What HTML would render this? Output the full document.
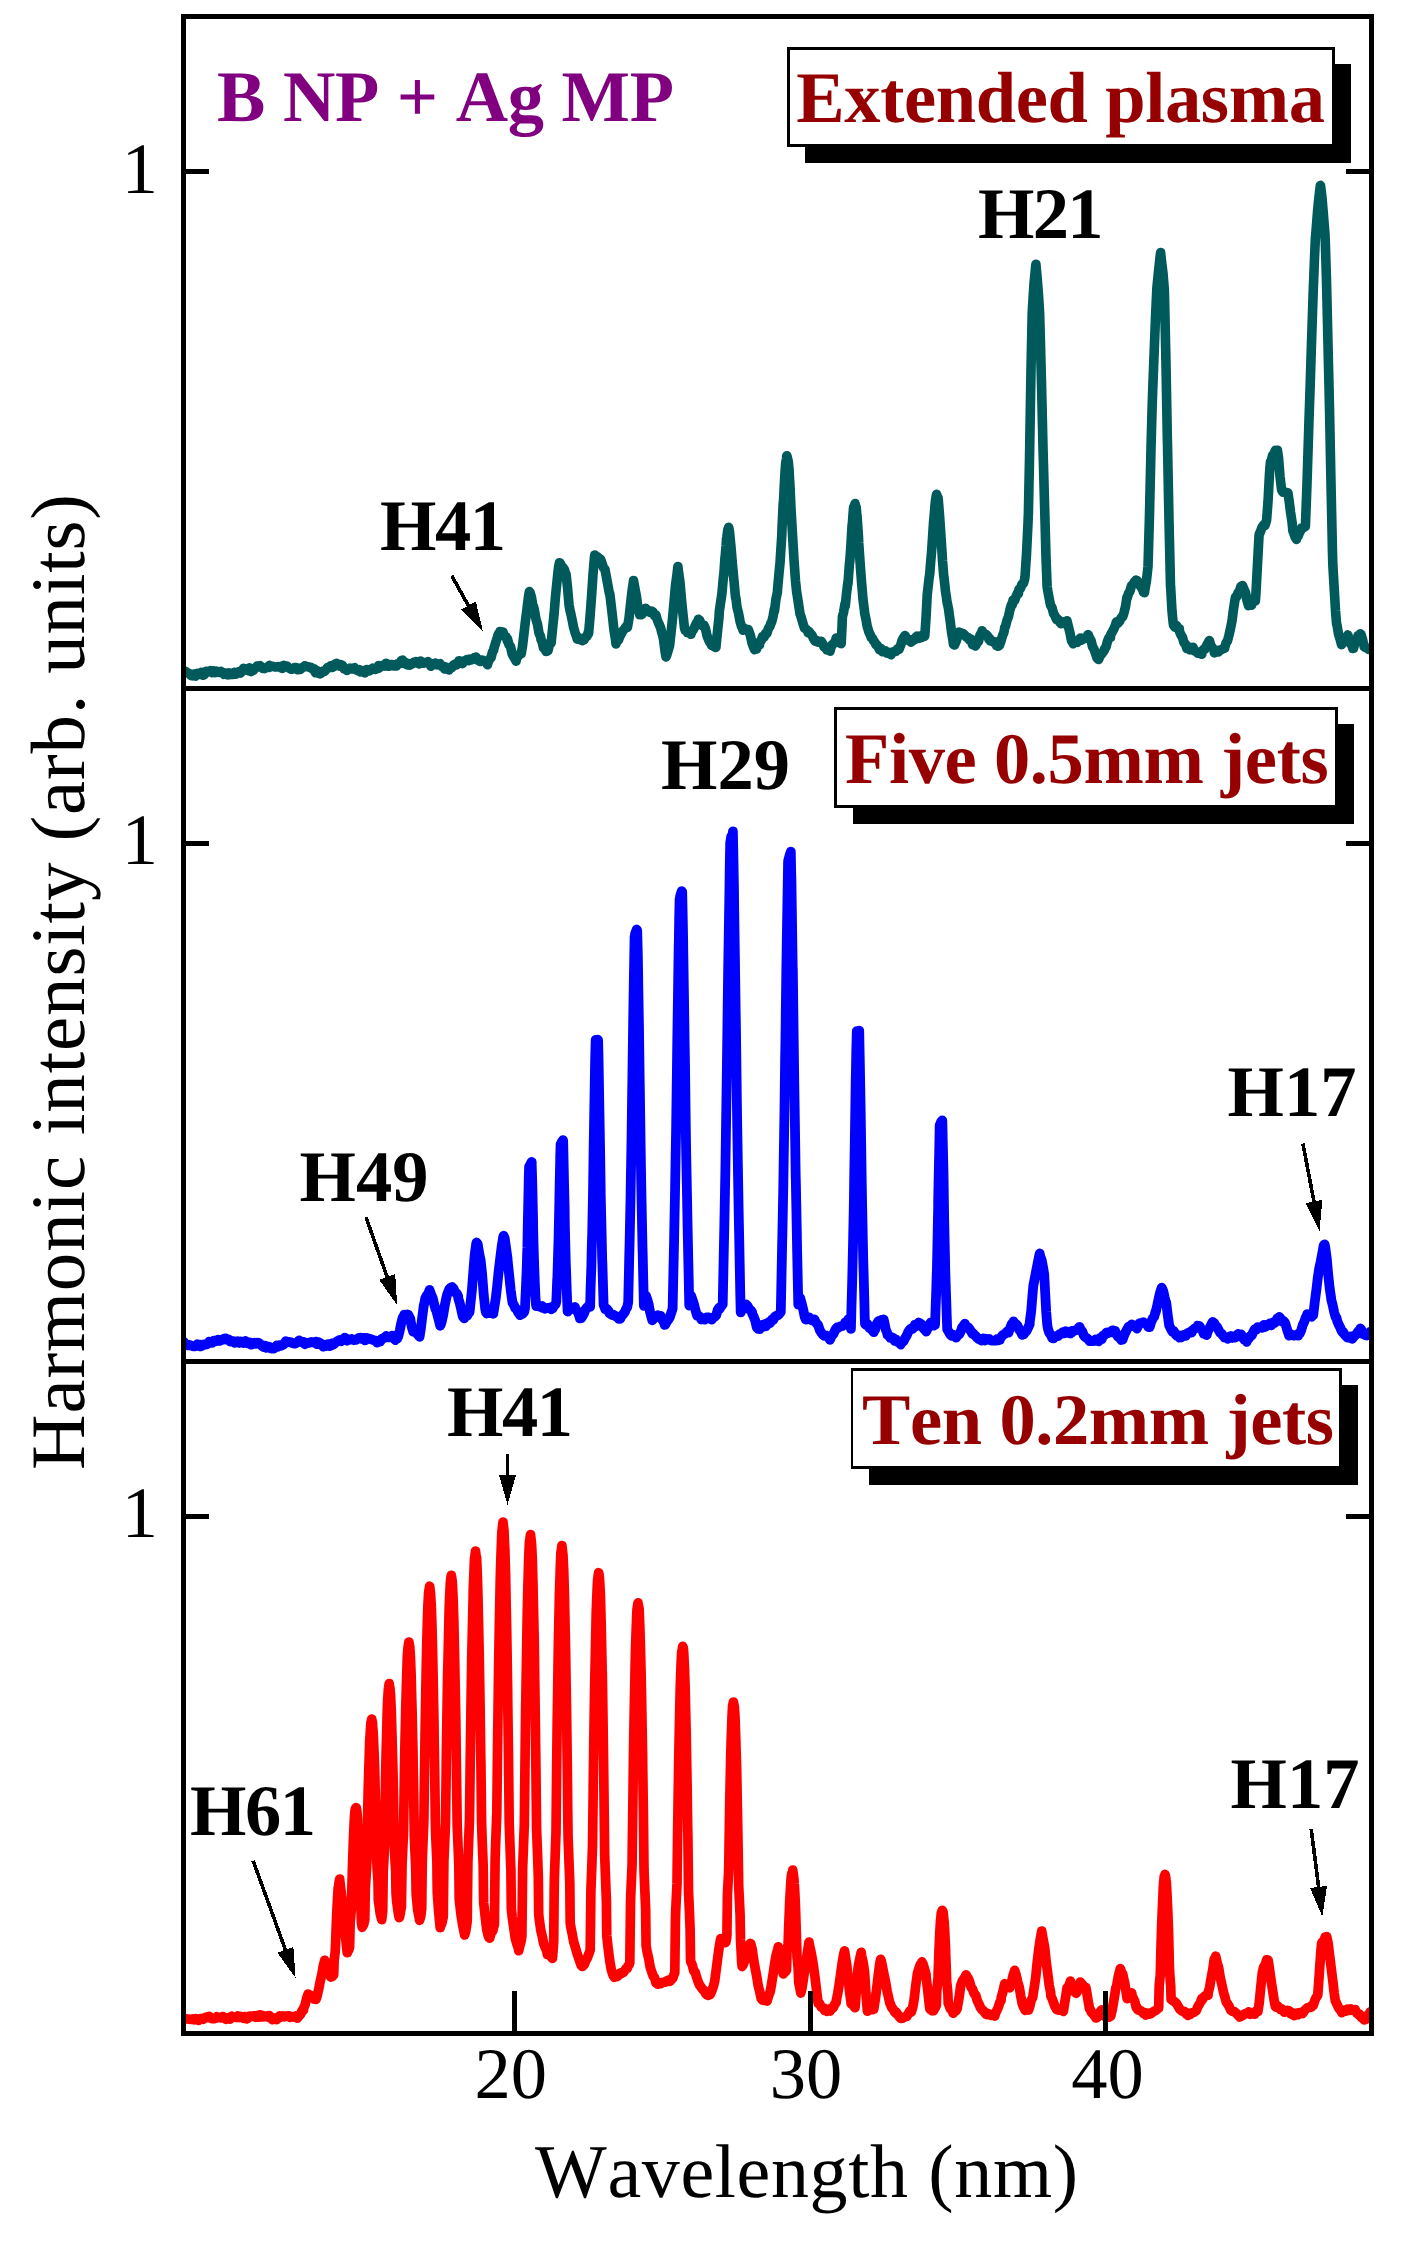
<!DOCTYPE html><html><head><meta charset="utf-8"><title>Harmonic spectra</title><style>html,body{margin:0;padding:0;background:#fff}svg{display:block}text{font-family:"Liberation Serif","DejaVu Serif",serif;font-kerning:none}.b{font-weight:bold}</style></head><body>
<svg width="1402" height="2246" viewBox="0 0 1402 2246" shape-rendering="crispEdges" text-rendering="geometricPrecision">
<rect width="1402" height="2246" fill="#fff"/>
<rect x="805.1" y="64.3" width="546.0" height="98.6" fill="#000"/><rect x="788.35" y="48.35" width="545.20" height="97.10" fill="#fff" stroke="#000" stroke-width="2.7"/>
<rect x="852.6" y="724.3" width="501.5" height="99.5" fill="#000"/><rect x="835.85" y="708.35" width="500.70" height="98.00" fill="#fff" stroke="#000" stroke-width="2.7"/>
<rect x="868.8" y="1385.3" width="489.4" height="99.7" fill="#000"/><rect x="852.05" y="1369.35" width="488.55" height="98.20" fill="#fff" stroke="#000" stroke-width="2.7"/>
<clipPath id="cp"><rect x="183.5" y="0" width="1188.0" height="2246"/></clipPath>
<g fill="none" stroke-linejoin="round" stroke-linecap="round" shape-rendering="auto" clip-path="url(#cp)">
<path stroke="#00595a" stroke-width="9.6" d="M183.5,672.3 L185.0,671.2 L186.5,672.0 L188.0,673.1 L189.5,673.7 L191.0,675.6 L192.5,675.9 L194.0,674.1 L195.5,676.1 L197.0,673.3 L198.5,673.3 L198.9,673.3 L200.0,674.4 L201.5,672.3 L203.0,675.3 L204.5,674.5 L206.0,671.2 L207.5,671.4 L209.0,671.6 L210.5,670.6 L212.0,672.7 L213.5,670.8 L215.0,672.7 L216.5,671.2 L218.0,672.1 L218.1,672.0 L219.5,672.5 L221.0,671.5 L222.5,672.5 L224.0,674.2 L225.5,673.1 L227.0,674.4 L227.8,674.9 L228.5,672.7 L230.0,674.4 L231.5,673.4 L233.0,674.3 L234.5,672.2 L236.0,674.2 L237.5,673.1 L239.0,671.5 L240.5,673.1 L242.0,671.4 L243.5,668.3 L245.0,668.8 L246.5,669.4 L248.0,670.6 L249.5,667.9 L251.0,671.6 L252.5,669.0 L253.5,670.3 L254.0,668.5 L255.5,668.0 L257.0,666.1 L258.5,666.2 L260.0,665.6 L261.5,667.4 L263.0,668.4 L264.5,668.6 L266.0,667.8 L267.5,667.2 L269.0,667.4 L269.5,665.4 L270.5,666.8 L272.0,666.3 L273.5,666.5 L275.0,667.0 L276.5,667.0 L278.0,666.5 L279.5,667.2 L281.0,666.3 L282.3,668.4 L282.5,667.3 L284.0,665.5 L285.5,666.3 L287.0,666.0 L288.5,667.8 L290.0,668.6 L291.5,669.3 L293.0,668.9 L294.5,667.6 L296.0,667.6 L297.5,669.8 L299.0,668.6 L300.5,669.3 L302.0,667.6 L303.5,667.2 L304.8,665.9 L305.0,666.7 L306.5,666.4 L308.0,666.7 L309.5,667.3 L311.0,667.2 L312.5,669.1 L314.0,668.8 L315.5,672.8 L317.0,670.6 L318.5,673.3 L320.0,673.9 L320.9,673.4 L321.5,672.8 L323.0,671.1 L324.5,671.5 L326.0,669.7 L327.5,667.6 L329.0,667.6 L330.5,665.9 L332.0,667.5 L333.5,666.9 L335.0,664.2 L336.5,663.3 L336.9,663.6 L338.0,664.9 L339.5,666.1 L341.0,664.7 L342.5,665.5 L344.0,668.9 L345.5,668.6 L347.0,670.3 L348.5,669.2 L350.0,668.2 L351.5,669.0 L353.0,668.5 L354.5,667.7 L356.0,669.9 L357.5,670.3 L359.0,671.3 L359.4,669.6 L360.5,672.0 L362.0,670.5 L363.5,671.9 L365.0,672.9 L366.5,669.6 L368.0,669.8 L369.5,670.8 L371.0,669.8 L372.5,668.3 L374.0,669.2 L375.5,669.4 L377.0,668.7 L378.5,668.3 L378.6,665.6 L380.0,666.9 L381.5,666.3 L383.0,665.4 L384.5,666.0 L386.0,663.3 L387.5,666.3 L389.0,666.3 L390.5,664.6 L392.0,664.6 L393.5,665.9 L395.0,664.7 L396.5,665.9 L398.0,663.5 L399.5,663.4 L401.0,663.2 L401.1,660.7 L402.5,660.1 L404.0,663.3 L405.5,662.7 L407.0,664.9 L408.5,663.8 L410.0,665.2 L411.5,663.7 L413.0,663.6 L413.9,662.1 L414.5,662.9 L416.0,661.6 L417.5,662.0 L419.0,663.9 L420.5,661.1 L422.0,661.9 L423.5,663.2 L425.0,662.5 L426.5,662.8 L428.0,661.7 L429.5,663.5 L430.0,664.3 L431.0,666.3 L432.5,663.7 L434.0,663.6 L435.5,663.2 L437.0,664.8 L438.5,664.3 L440.0,663.7 L441.5,666.2 L443.0,666.0 L444.5,668.9 L446.0,667.9 L446.0,667.0 L447.5,669.2 L449.0,669.9 L450.5,667.5 L452.0,667.5 L453.5,665.1 L455.0,664.0 L456.5,664.8 L458.0,663.7 L458.9,660.7 L459.5,663.1 L461.0,662.0 L462.5,663.6 L464.0,660.7 L465.5,660.6 L467.0,659.6 L468.5,660.6 L470.0,659.1 L471.5,659.8 L473.0,659.0 L474.5,657.6 L474.9,657.9 L476.0,657.1 L477.5,660.2 L479.0,659.7 L480.0,661.5 L480.5,661.0 L482.0,660.0 L483.5,660.6 L485.0,661.4 L486.5,662.7 L487.5,664.7 L488.0,662.6 L489.5,659.2 L491.0,657.7 L492.5,652.0 L493.7,650.0 L494.0,648.1 L495.5,643.3 L497.0,638.4 L498.5,633.8 L499.5,632.8 L500.0,631.5 L501.5,633.9 L503.0,632.0 L504.5,636.5 L506.0,636.7 L507.4,641.1 L507.5,639.0 L509.0,644.7 L510.5,646.5 L512.0,653.5 L513.5,656.5 L515.0,658.9 L516.2,661.1 L516.5,658.1 L518.0,656.5 L519.5,654.4 L521.0,653.2 L521.2,653.9 L522.5,646.2 L524.0,633.4 L525.5,620.5 L527.0,608.8 L528.5,596.7 L529.4,591.6 L530.0,592.5 L531.5,597.5 L533.0,606.5 L533.7,606.9 L534.5,610.9 L536.0,619.4 L537.5,624.2 L539.0,633.1 L540.5,636.5 L541.1,639.8 L542.0,641.5 L543.5,647.8 L545.0,649.4 L546.1,651.4 L546.5,651.3 L548.0,650.6 L549.5,644.2 L551.0,643.0 L551.1,643.3 L552.5,629.1 L554.0,614.8 L555.5,596.4 L557.0,581.6 L558.5,567.4 L559.4,562.9 L560.0,562.9 L561.5,566.0 L563.0,567.6 L564.5,569.7 L566.0,575.2 L566.1,574.5 L567.5,587.3 L569.0,604.4 L569.9,610.1 L570.5,612.3 L572.0,619.2 L573.5,627.0 L575.0,632.3 L576.5,636.5 L577.3,639.1 L578.0,637.3 L579.5,638.3 L581.0,639.9 L582.3,640.6 L582.5,640.0 L584.0,639.9 L585.5,637.1 L587.0,636.2 L588.5,631.6 L588.6,633.3 L590.0,617.1 L591.5,597.1 L593.0,574.5 L594.5,556.7 L594.8,555.0 L596.0,556.9 L597.5,556.9 L599.0,558.3 L600.5,559.3 L602.0,563.3 L603.5,567.7 L604.8,569.5 L605.0,569.5 L606.5,577.7 L608.0,585.9 L609.5,594.0 L609.8,593.7 L611.0,603.7 L612.5,616.7 L614.0,630.4 L615.5,639.5 L616.0,643.9 L617.0,639.7 L618.5,639.9 L620.0,636.1 L621.5,633.4 L622.3,631.4 L623.0,630.8 L624.5,628.9 L626.0,626.7 L627.3,627.4 L627.5,626.9 L629.0,618.3 L630.5,604.4 L632.0,591.4 L633.5,581.0 L633.5,580.5 L635.0,588.9 L636.5,596.6 L638.0,608.8 L639.5,613.5 L639.7,614.8 L641.0,614.8 L642.5,613.9 L644.0,611.0 L645.5,608.3 L646.0,608.7 L647.0,609.7 L648.5,611.0 L650.0,612.3 L651.5,611.1 L653.0,611.9 L654.5,614.7 L654.7,615.9 L656.0,615.2 L657.5,620.5 L659.0,624.1 L660.5,627.4 L662.0,633.7 L662.2,633.4 L663.5,639.2 L665.0,651.2 L666.0,656.9 L666.5,655.8 L668.0,651.0 L669.5,645.8 L669.7,644.8 L671.0,633.0 L672.5,618.7 L674.0,602.5 L675.5,585.5 L677.0,574.5 L677.9,566.6 L678.5,571.6 L680.0,582.3 L681.5,599.8 L683.0,614.4 L684.5,628.2 L685.2,630.3 L686.0,630.2 L687.5,632.7 L689.0,631.6 L690.5,634.0 L690.9,634.3 L692.0,631.5 L693.5,629.4 L695.0,626.4 L696.5,623.0 L698.0,621.1 L698.4,619.3 L699.5,620.1 L701.0,623.4 L702.5,625.8 L704.0,625.3 L704.6,626.8 L705.5,628.8 L707.0,635.8 L708.5,639.6 L710.0,642.6 L710.9,643.2 L711.5,645.3 L713.0,644.3 L714.5,647.0 L715.9,647.5 L716.0,646.1 L717.5,631.6 L719.0,617.6 L719.3,611.5 L720.5,603.2 L721.9,593.8 L722.0,592.7 L723.5,575.8 L723.7,576.0 L725.0,557.2 L725.1,557.3 L726.1,545.6 L726.5,539.1 L726.9,536.7 L727.6,531.3 L728.0,529.3 L728.7,527.3 L729.5,531.6 L731.0,547.2 L732.5,565.2 L734.0,580.9 L735.5,597.6 L735.9,598.0 L737.0,607.2 L738.5,613.1 L740.0,621.2 L741.5,626.5 L742.1,627.2 L743.0,630.2 L744.5,628.4 L746.0,629.7 L747.5,630.5 L748.3,629.6 L749.0,631.5 L750.5,635.9 L752.0,643.1 L753.5,647.1 L754.6,649.7 L755.0,648.4 L756.5,649.1 L758.0,644.3 L759.5,645.0 L759.6,642.0 L761.0,640.8 L762.5,636.6 L764.0,637.3 L765.5,633.4 L765.8,634.2 L767.0,633.1 L768.5,628.2 L770.0,626.3 L770.8,623.1 L771.5,622.6 L773.0,616.7 L774.4,608.9 L774.5,611.0 L776.0,598.7 L777.4,592.3 L777.5,589.9 L779.0,573.4 L780.0,563.2 L780.5,555.1 L781.8,535.3 L782.0,528.3 L783.2,503.0 L783.5,501.3 L784.2,486.8 L785.0,472.8 L785.0,472.0 L785.7,463.0 L786.5,458.5 L786.8,455.7 L787.2,457.0 L788.0,460.3 L788.3,461.7 L789.1,470.3 L789.5,478.9 L789.8,482.1 L790.8,504.0 L791.0,508.4 L792.3,531.3 L792.5,534.6 L794.0,560.0 L794.1,561.4 L795.5,580.9 L796.7,592.6 L797.0,594.0 L798.5,603.8 L799.6,611.0 L800.0,613.7 L801.5,618.3 L803.0,623.6 L803.2,624.3 L804.5,628.1 L806.0,629.0 L807.5,630.6 L808.2,632.7 L809.0,631.5 L810.5,633.7 L812.0,635.2 L813.5,638.5 L815.0,641.0 L816.5,640.3 L818.0,642.1 L819.5,641.5 L821.0,642.9 L821.2,641.2 L822.5,643.4 L824.0,646.9 L825.5,647.8 L827.0,650.0 L828.5,650.1 L830.0,650.0 L830.0,651.2 L831.5,645.5 L833.0,644.1 L834.5,642.8 L836.0,639.4 L836.2,638.1 L837.5,641.2 L839.0,640.4 L840.5,643.5 L841.2,643.6 L842.0,627.3 L842.4,616.8 L843.5,612.6 L845.0,603.9 L845.3,605.7 L846.5,593.6 L847.9,582.1 L848.0,583.6 L849.5,562.3 L849.7,562.7 L851.0,544.0 L851.2,540.0 L852.1,525.1 L852.5,522.2 L852.9,515.8 L853.6,507.2 L854.0,508.1 L854.7,505.1 L855.1,503.5 L855.5,505.8 L856.2,507.3 L856.9,515.6 L857.0,515.4 L857.7,525.5 L858.5,537.0 L858.7,542.5 L860.0,561.4 L860.1,562.9 L861.5,581.5 L861.9,586.3 L863.0,599.3 L864.5,611.3 L864.5,612.2 L866.0,619.4 L867.4,627.3 L867.5,627.2 L869.0,632.3 L870.5,635.2 L871.0,637.4 L872.0,637.6 L873.5,640.7 L875.0,642.5 L876.0,644.7 L876.5,644.5 L878.0,646.4 L879.5,649.7 L881.0,648.5 L882.5,651.8 L884.0,651.2 L885.5,650.8 L887.0,653.1 L888.5,653.1 L890.0,652.4 L891.1,654.8 L891.5,653.3 L893.0,652.3 L894.5,651.3 L896.0,651.5 L897.5,648.8 L899.0,649.4 L899.9,646.7 L900.5,645.9 L902.0,640.5 L903.5,637.6 L903.6,637.6 L905.0,635.6 L906.5,637.9 L908.0,640.1 L909.5,639.6 L911.0,642.2 L911.1,639.9 L912.5,640.6 L914.0,640.2 L915.5,637.8 L917.0,636.1 L918.5,636.5 L918.6,638.4 L920.0,636.1 L921.5,637.6 L923.0,635.4 L924.5,636.3 L924.8,635.6 L926.0,618.3 L927.2,595.0 L927.5,592.2 L929.0,578.7 L929.8,573.6 L930.5,564.0 L931.6,551.6 L932.0,545.6 L933.0,530.4 L933.5,522.8 L934.0,517.4 L934.8,507.9 L935.0,505.3 L935.5,500.6 L936.5,494.6 L936.6,494.3 L937.0,495.4 L938.0,500.2 L938.1,498.0 L938.8,506.0 L939.5,514.9 L939.6,516.2 L940.5,529.5 L941.0,537.0 L942.0,552.1 L942.5,560.6 L943.8,576.6 L944.0,577.2 L945.5,591.5 L946.4,597.0 L947.0,601.8 L948.5,608.7 L949.3,615.0 L950.0,619.5 L951.5,631.9 L953.0,640.8 L953.5,644.5 L954.5,645.0 L956.0,641.8 L957.5,637.1 L959.0,632.1 L959.8,632.8 L960.5,632.8 L962.0,633.1 L963.5,633.8 L965.0,635.3 L966.5,637.2 L967.2,637.2 L968.0,637.2 L969.5,640.0 L971.0,638.9 L972.5,644.6 L974.0,643.8 L974.7,645.5 L975.5,645.9 L977.0,642.8 L978.5,641.3 L980.0,635.2 L981.5,632.6 L982.2,630.7 L983.0,633.1 L984.5,633.9 L986.0,634.5 L987.5,635.8 L989.0,639.5 L989.7,638.6 L990.5,640.9 L992.0,640.9 L993.5,642.2 L995.0,641.7 L996.5,645.6 L998.0,646.2 L998.5,646.2 L999.5,645.2 L1001.0,640.9 L1002.5,635.8 L1004.0,632.1 L1004.7,627.5 L1005.5,626.3 L1007.0,620.4 L1008.5,616.4 L1010.0,609.5 L1011.5,604.5 L1012.2,605.0 L1013.0,600.2 L1014.5,600.8 L1016.0,596.6 L1017.5,593.1 L1018.4,593.6 L1019.0,589.2 L1020.5,588.4 L1022.0,584.2 L1023.5,583.2 L1024.7,579.0 L1025.0,576.7 L1026.5,554.3 L1028.0,523.3 L1028.4,512.7 L1029.5,458.9 L1031.0,369.9 L1032.2,313.3 L1032.5,307.7 L1034.0,283.7 L1035.5,268.0 L1035.9,264.3 L1037.0,276.2 L1038.5,295.1 L1039.6,312.9 L1040.0,325.8 L1041.5,383.6 L1043.0,447.5 L1043.4,462.2 L1044.5,502.5 L1046.0,557.5 L1047.1,586.3 L1047.5,589.4 L1049.0,597.5 L1050.5,605.2 L1052.0,607.6 L1053.5,613.3 L1055.0,615.9 L1056.5,619.5 L1058.0,619.3 L1059.5,620.8 L1059.5,621.9 L1061.0,623.7 L1062.5,621.7 L1064.0,623.5 L1065.5,621.5 L1067.0,621.4 L1067.0,620.8 L1068.5,626.8 L1070.0,633.1 L1071.5,640.5 L1073.0,643.1 L1073.2,643.8 L1074.5,642.4 L1076.0,641.7 L1077.5,642.3 L1079.0,639.9 L1080.5,638.0 L1080.7,638.6 L1082.0,639.9 L1083.5,638.8 L1085.0,637.9 L1086.5,638.2 L1088.0,634.6 L1088.2,634.7 L1089.5,637.8 L1091.0,640.4 L1092.5,646.5 L1094.0,649.1 L1095.5,653.3 L1097.0,657.9 L1098.2,658.2 L1098.5,659.5 L1100.0,656.0 L1101.5,654.2 L1103.0,652.1 L1104.4,650.2 L1104.5,648.9 L1106.0,647.0 L1107.5,641.3 L1109.0,637.6 L1110.5,637.3 L1110.7,634.7 L1112.0,632.4 L1113.5,629.7 L1115.0,626.3 L1116.5,621.7 L1116.9,623.8 L1118.0,623.1 L1119.5,621.4 L1121.0,618.1 L1122.5,617.1 L1123.1,615.5 L1124.0,612.7 L1125.5,606.5 L1126.9,597.5 L1127.0,598.5 L1128.5,593.5 L1130.0,591.1 L1131.5,585.6 L1133.0,584.5 L1134.5,581.8 L1135.6,580.8 L1136.0,580.1 L1137.5,581.1 L1139.0,582.9 L1140.5,586.4 L1142.0,587.8 L1143.5,592.1 L1144.4,592.8 L1145.0,589.1 L1146.5,580.5 L1148.0,566.4 L1148.1,563.6 L1149.5,514.5 L1151.0,448.5 L1151.9,415.2 L1152.5,395.9 L1154.0,356.3 L1155.5,317.7 L1156.8,289.1 L1157.0,286.6 L1158.5,271.8 L1160.0,257.5 L1160.6,252.6 L1161.5,261.0 L1163.0,273.3 L1164.3,289.1 L1164.5,295.4 L1166.0,364.6 L1167.3,436.9 L1167.5,444.5 L1169.0,520.4 L1170.5,586.7 L1170.6,586.3 L1172.0,611.2 L1173.1,622.2 L1173.5,625.2 L1175.0,627.3 L1176.5,625.6 L1178.0,628.3 L1179.3,628.7 L1179.5,631.6 L1181.0,634.9 L1182.5,637.5 L1184.0,642.8 L1185.5,644.1 L1186.8,648.5 L1187.0,646.9 L1188.5,646.9 L1190.0,649.8 L1191.5,649.2 L1193.0,647.3 L1194.5,651.0 L1195.5,651.2 L1196.0,651.2 L1197.5,653.0 L1199.0,652.2 L1200.5,653.7 L1201.8,654.3 L1202.0,651.3 L1203.5,649.4 L1205.0,649.2 L1206.5,645.7 L1208.0,643.0 L1209.3,640.5 L1209.5,640.9 L1211.0,645.8 L1212.5,647.9 L1214.0,649.6 L1214.3,652.9 L1215.5,650.2 L1217.0,652.1 L1218.5,651.9 L1220.0,649.9 L1221.5,649.7 L1223.0,648.6 L1224.2,648.1 L1224.5,648.4 L1226.0,643.0 L1227.5,640.9 L1229.0,635.1 L1230.5,628.4 L1230.5,628.7 L1232.0,620.9 L1233.5,609.2 L1235.0,599.5 L1235.5,597.2 L1236.5,597.1 L1238.0,592.8 L1239.5,591.0 L1241.0,586.3 L1242.5,585.6 L1242.5,585.6 L1244.0,589.3 L1245.5,592.5 L1247.0,600.5 L1248.5,605.6 L1249.2,605.5 L1250.0,604.0 L1251.5,605.2 L1253.0,601.2 L1254.5,600.4 L1255.4,600.9 L1256.0,592.5 L1257.5,564.1 L1259.0,535.9 L1259.2,534.5 L1260.5,531.5 L1262.0,527.4 L1263.5,525.1 L1265.0,525.2 L1266.5,520.5 L1266.7,518.8 L1268.0,501.7 L1269.5,473.5 L1270.4,462.0 L1271.0,462.3 L1272.5,455.7 L1274.0,453.7 L1275.5,450.2 L1277.0,452.0 L1277.4,450.2 L1278.5,457.4 L1280.0,476.5 L1281.5,489.3 L1281.7,490.1 L1283.0,492.2 L1284.5,492.0 L1286.0,492.4 L1287.5,493.0 L1287.9,492.8 L1289.0,499.9 L1290.5,511.9 L1292.0,521.8 L1292.9,531.0 L1293.5,532.2 L1295.0,536.8 L1296.5,539.4 L1296.6,537.1 L1298.0,536.3 L1299.5,532.7 L1301.0,530.0 L1301.6,528.1 L1302.5,528.2 L1304.0,527.3 L1305.4,526.3 L1305.5,523.9 L1307.0,483.9 L1308.5,436.0 L1309.1,416.8 L1310.0,391.1 L1311.5,342.8 L1313.0,297.7 L1314.5,258.1 L1315.4,238.0 L1316.0,231.4 L1317.5,211.9 L1319.0,196.5 L1320.3,185.7 L1320.5,185.4 L1322.0,197.6 L1323.5,215.6 L1325.0,234.9 L1325.3,241.9 L1326.5,280.8 L1328.0,344.5 L1329.1,390.6 L1329.5,408.4 L1331.0,483.9 L1332.5,553.2 L1332.8,564.4 L1334.0,585.1 L1335.5,610.8 L1336.6,624.1 L1337.0,624.9 L1338.5,634.1 L1340.0,638.7 L1341.5,644.6 L1341.6,643.9 L1343.0,642.8 L1344.5,639.7 L1346.0,638.4 L1347.5,637.4 L1347.8,634.9 L1349.0,638.7 L1350.5,643.3 L1352.0,645.6 L1352.8,648.4 L1353.5,648.3 L1355.0,642.5 L1356.5,641.8 L1358.0,635.7 L1359.5,635.3 L1360.3,633.8 L1361.0,634.3 L1362.5,639.2 L1364.0,645.8 L1364.0,646.6 L1365.5,647.6 L1367.0,647.7 L1368.5,649.4 L1370.0,648.5 L1371.5,647.4"/>
<path stroke="#0000ff" stroke-width="9.8" d="M183.7,1341.8 L185.2,1343.7 L186.7,1344.4 L188.2,1345.4 L189.7,1345.0 L191.2,1345.6 L192.7,1346.1 L194.2,1346.3 L195.7,1346.1 L197.2,1344.3 L198.7,1345.0 L200.0,1344.7 L200.2,1346.5 L201.7,1345.9 L203.2,1344.3 L204.7,1344.4 L206.2,1344.5 L207.7,1343.9 L209.2,1341.6 L210.7,1342.7 L212.2,1342.9 L213.7,1340.7 L215.2,1340.7 L216.7,1341.0 L218.2,1339.7 L219.7,1340.8 L221.2,1339.8 L222.4,1339.5 L222.7,1339.7 L224.2,1338.6 L225.7,1338.4 L227.2,1339.7 L228.7,1339.5 L230.2,1341.5 L231.7,1341.4 L233.2,1341.2 L234.7,1342.7 L236.2,1341.6 L237.7,1341.1 L239.2,1343.0 L239.9,1342.1 L240.7,1341.5 L242.2,1342.5 L243.7,1343.0 L245.2,1341.0 L246.7,1342.8 L248.2,1343.4 L249.7,1342.3 L251.2,1344.7 L252.7,1343.8 L254.2,1342.7 L255.7,1343.7 L257.2,1343.0 L257.4,1342.7 L258.7,1342.8 L260.2,1344.0 L261.7,1345.6 L263.2,1346.9 L264.7,1345.7 L266.2,1347.8 L267.7,1346.4 L269.2,1346.8 L270.7,1348.4 L272.2,1348.6 L273.7,1348.6 L274.8,1347.6 L275.2,1347.0 L276.7,1345.6 L278.2,1346.7 L279.7,1345.3 L281.2,1345.8 L282.7,1345.0 L284.2,1344.1 L285.7,1341.2 L287.2,1342.1 L287.3,1342.1 L288.7,1341.8 L290.2,1342.0 L291.7,1342.7 L293.2,1343.5 L294.7,1343.7 L296.2,1343.0 L297.7,1342.0 L299.2,1340.3 L300.7,1342.1 L302.2,1341.8 L303.7,1341.9 L304.8,1344.2 L305.2,1344.1 L306.7,1343.2 L308.2,1342.8 L309.7,1342.6 L311.2,1341.9 L312.7,1342.4 L314.2,1342.6 L315.7,1341.6 L317.2,1344.2 L318.7,1342.2 L319.8,1343.6 L320.2,1343.0 L321.7,1344.0 L323.2,1346.7 L324.7,1345.2 L326.2,1346.0 L327.7,1344.1 L329.2,1344.2 L329.8,1346.0 L330.7,1345.7 L332.2,1343.4 L333.7,1344.5 L335.2,1342.9 L336.7,1341.7 L338.2,1340.7 L339.7,1339.9 L341.2,1341.1 L342.7,1339.9 L344.2,1339.1 L344.7,1337.6 L345.7,1338.4 L347.2,1340.6 L348.7,1339.9 L350.2,1339.7 L351.7,1339.0 L353.2,1340.0 L354.7,1340.0 L354.7,1339.8 L356.2,1339.8 L357.7,1338.7 L359.2,1337.8 L360.7,1337.7 L362.2,1338.9 L363.7,1337.9 L365.2,1340.4 L366.7,1338.0 L367.2,1338.7 L368.2,1338.6 L369.7,1338.6 L371.2,1339.3 L372.7,1339.7 L374.2,1340.5 L375.7,1340.7 L377.2,1342.7 L377.2,1342.5 L378.7,1341.0 L380.2,1341.6 L381.7,1339.0 L383.2,1338.5 L384.7,1337.3 L386.2,1336.1 L387.7,1337.4 L389.2,1336.8 L389.7,1336.6 L390.7,1337.4 L392.2,1335.6 L393.7,1337.9 L395.2,1340.1 L396.7,1338.4 L397.2,1338.8 L398.2,1336.5 L399.7,1330.8 L401.2,1323.2 L402.7,1317.5 L403.4,1317.2 L404.2,1314.6 L405.7,1316.0 L407.2,1314.4 L408.4,1314.7 L408.7,1315.6 L410.2,1318.7 L411.7,1326.9 L413.2,1331.7 L413.4,1330.9 L414.7,1331.9 L416.2,1332.8 L417.7,1334.4 L419.2,1336.3 L419.6,1336.8 L420.7,1329.6 L422.2,1317.5 L423.7,1305.8 L424.6,1302.2 L425.2,1298.5 L426.7,1295.4 L428.2,1293.7 L429.6,1289.9 L429.7,1290.3 L431.2,1294.8 L432.7,1298.1 L434.2,1304.4 L435.7,1309.6 L435.9,1309.1 L437.2,1314.1 L438.7,1319.7 L440.2,1325.8 L440.8,1324.5 L441.7,1321.7 L443.2,1314.9 L444.7,1305.7 L446.2,1298.4 L447.1,1294.6 L447.7,1293.1 L449.2,1289.4 L450.7,1287.5 L452.1,1287.0 L452.2,1287.3 L453.7,1288.8 L455.2,1292.5 L456.7,1293.3 L458.2,1296.6 L458.3,1298.5 L459.7,1302.9 L461.2,1309.5 L462.7,1316.2 L463.3,1317.2 L464.2,1318.4 L465.7,1316.0 L467.2,1315.7 L468.7,1312.7 L469.6,1312.1 L470.2,1306.0 L471.7,1292.3 L473.2,1273.3 L474.7,1254.7 L476.2,1243.9 L476.5,1242.5 L477.7,1243.9 L479.2,1253.5 L480.7,1260.8 L480.8,1261.6 L482.2,1275.0 L483.7,1294.8 L485.2,1308.7 L485.8,1311.9 L486.7,1313.4 L488.2,1312.8 L489.7,1313.2 L491.2,1312.1 L492.7,1313.4 L493.3,1313.8 L494.2,1308.1 L495.7,1298.8 L497.2,1285.8 L498.7,1271.0 L500.2,1258.4 L501.7,1246.3 L503.2,1236.9 L503.7,1235.7 L504.7,1238.3 L506.2,1249.0 L507.5,1258.1 L507.7,1261.6 L509.2,1275.3 L510.7,1290.1 L512.2,1300.7 L512.5,1302.9 L513.7,1304.6 L515.2,1308.2 L516.7,1309.0 L518.2,1312.6 L519.7,1314.3 L520.0,1315.2 L521.2,1312.5 L522.7,1313.8 L524.2,1311.9 L525.0,1308.3 L525.4,1298.2 L525.7,1292.4 L526.0,1285.9 L526.7,1269.0 L527.2,1251.6 L527.4,1247.2 L527.8,1223.4 L528.3,1201.6 L528.7,1181.2 L528.7,1179.7 L529.1,1166.6 L530.2,1164.8 L531.7,1161.8 L531.7,1164.3 L532.2,1180.1 L532.6,1198.1 L533.1,1221.4 L533.2,1230.1 L533.5,1243.7 L534.2,1265.8 L534.7,1279.8 L534.8,1282.5 L535.4,1295.9 L535.9,1303.6 L536.2,1306.1 L537.7,1305.5 L539.2,1306.6 L540.7,1306.3 L542.2,1306.0 L542.4,1307.8 L543.7,1307.6 L545.2,1308.7 L546.7,1308.2 L548.2,1307.8 L549.7,1307.7 L551.2,1309.1 L551.2,1309.3 L552.7,1308.4 L554.2,1305.4 L555.7,1304.3 L556.3,1301.6 L556.7,1292.3 L557.2,1279.4 L557.4,1277.5 L558.0,1257.2 L558.7,1233.8 L558.7,1231.7 L559.2,1208.7 L559.7,1182.3 L560.2,1159.7 L560.2,1157.4 L560.6,1144.5 L561.7,1141.9 L563.1,1140.1 L563.2,1143.5 L563.4,1151.9 L564.1,1185.2 L564.7,1210.0 L564.7,1216.3 L565.1,1236.6 L565.8,1263.2 L566.2,1273.9 L566.5,1283.2 L567.1,1299.9 L567.6,1311.5 L567.7,1310.2 L569.2,1308.8 L570.7,1309.3 L572.2,1308.1 L573.7,1307.5 L574.9,1307.0 L575.2,1309.3 L576.7,1310.3 L578.2,1313.0 L579.7,1317.6 L579.9,1318.4 L581.2,1318.2 L582.7,1316.0 L584.2,1313.2 L585.7,1309.0 L587.2,1307.3 L588.6,1306.5 L588.7,1305.6 L590.1,1306.8 L590.2,1303.3 L590.6,1287.9 L591.4,1265.2 L591.7,1249.4 L592.2,1233.9 L593.0,1193.0 L593.2,1178.7 L593.6,1150.7 L594.3,1109.0 L594.7,1085.9 L594.9,1073.4 L595.2,1056.7 L595.7,1039.8 L596.2,1040.5 L597.7,1039.7 L598.1,1040.0 L598.5,1056.5 L598.8,1073.8 L599.2,1098.3 L599.4,1109.8 L600.1,1150.0 L600.7,1191.5 L600.7,1194.0 L601.6,1232.5 L602.2,1259.6 L602.4,1264.1 L603.1,1288.8 L603.6,1305.2 L603.7,1305.1 L605.2,1309.1 L606.7,1308.7 L608.2,1310.4 L609.7,1313.5 L611.2,1314.5 L612.3,1315.2 L612.7,1314.5 L614.2,1315.2 L615.7,1316.3 L617.2,1316.8 L618.7,1318.9 L619.8,1318.7 L620.2,1318.9 L621.7,1315.5 L623.2,1314.3 L624.7,1312.3 L626.2,1308.7 L627.3,1307.1 L627.7,1304.5 L628.2,1302.6 L628.8,1276.9 L629.2,1258.4 L629.6,1242.6 L630.5,1200.2 L630.7,1186.6 L631.5,1141.0 L632.2,1089.1 L632.3,1084.8 L633.1,1025.7 L633.7,989.0 L633.9,976.3 L634.3,954.0 L634.6,937.1 L635.2,933.4 L636.7,929.5 L637.2,930.6 L637.8,953.8 L638.2,976.3 L638.2,980.8 L639.0,1028.2 L639.7,1081.3 L639.8,1085.6 L640.6,1144.3 L641.2,1181.5 L641.6,1202.8 L642.5,1247.7 L642.7,1253.6 L643.3,1281.4 L643.9,1305.9 L644.2,1305.8 L645.7,1296.0 L646.0,1295.8 L647.2,1299.2 L648.7,1304.4 L650.2,1312.8 L651.7,1318.2 L652.3,1320.3 L653.2,1319.1 L654.7,1318.0 L656.2,1316.8 L657.7,1315.3 L659.2,1316.5 L659.8,1316.0 L660.7,1316.0 L662.2,1319.6 L663.7,1322.0 L664.8,1324.9 L665.2,1324.9 L666.7,1321.8 L668.2,1319.9 L669.7,1317.4 L671.2,1312.9 L672.6,1308.9 L672.7,1304.6 L673.2,1281.4 L674.1,1240.6 L674.2,1234.4 L675.0,1193.6 L675.7,1152.4 L676.1,1130.3 L677.0,1063.5 L677.2,1046.7 L677.9,999.7 L678.7,945.2 L678.8,943.0 L679.2,917.1 L679.6,899.6 L680.2,896.0 L681.7,891.1 L682.2,892.0 L682.7,916.7 L683.2,942.9 L683.2,945.8 L684.0,997.6 L684.7,1046.3 L685.0,1063.4 L685.8,1127.9 L686.2,1153.9 L686.9,1190.4 L687.7,1232.5 L687.8,1237.4 L688.7,1278.4 L689.2,1303.6 L689.3,1305.5 L690.7,1297.0 L691.0,1295.6 L692.2,1298.7 L693.7,1303.2 L695.2,1309.1 L696.7,1314.5 L697.2,1315.8 L698.2,1315.4 L699.7,1316.7 L701.2,1319.5 L702.7,1319.3 L704.2,1318.5 L704.7,1319.5 L705.7,1317.7 L707.2,1317.3 L708.7,1317.4 L710.2,1318.4 L711.7,1319.6 L712.2,1318.8 L713.2,1317.7 L714.7,1316.8 L716.2,1315.3 L717.7,1309.8 L719.2,1307.7 L719.7,1308.8 L720.7,1306.7 L722.2,1305.2 L722.7,1304.3 L723.4,1271.0 L723.7,1255.7 L724.3,1227.6 L725.2,1179.6 L725.3,1176.2 L726.4,1100.7 L726.7,1080.6 L727.4,1027.2 L728.2,967.6 L728.4,955.2 L729.4,892.0 L729.7,869.7 L729.8,863.4 L730.2,842.9 L731.2,836.4 L732.7,834.2 L732.9,831.5 L733.5,863.2 L734.0,890.9 L734.2,910.1 L734.9,956.6 L735.7,1013.1 L736.0,1031.4 L736.9,1103.9 L737.2,1124.4 L738.1,1178.7 L738.7,1213.7 L739.1,1233.2 L740.0,1279.9 L740.2,1291.1 L740.7,1312.4 L741.7,1309.4 L743.2,1307.7 L744.7,1306.3 L745.9,1305.7 L746.2,1304.5 L747.7,1306.1 L749.2,1309.4 L750.7,1310.1 L752.1,1312.1 L752.2,1313.8 L753.7,1316.7 L755.2,1320.6 L756.7,1327.3 L758.2,1328.9 L758.4,1328.6 L759.7,1329.0 L761.2,1325.2 L762.7,1327.0 L764.2,1324.2 L765.7,1323.9 L765.9,1326.3 L767.2,1324.3 L768.7,1322.2 L770.2,1323.0 L771.7,1319.8 L773.2,1320.1 L774.6,1317.3 L774.7,1316.9 L776.2,1315.9 L777.7,1315.3 L779.2,1314.1 L780.7,1312.1 L780.8,1311.2 L781.4,1281.8 L782.2,1241.4 L782.3,1238.4 L783.3,1186.9 L783.7,1160.2 L784.4,1115.7 L785.2,1053.4 L785.4,1043.3 L786.3,972.2 L786.7,945.3 L787.3,908.7 L787.8,880.3 L788.1,861.7 L788.2,860.8 L789.7,855.1 L790.8,851.7 L791.2,873.4 L791.4,879.5 L791.8,907.1 L792.7,968.0 L792.8,968.3 L793.7,1039.2 L794.2,1077.9 L794.7,1110.0 L795.7,1177.3 L795.8,1179.2 L796.8,1232.4 L797.2,1254.1 L797.6,1272.7 L798.3,1304.6 L798.7,1302.0 L799.6,1297.4 L800.2,1298.0 L801.7,1303.5 L803.2,1309.6 L804.7,1316.9 L805.8,1319.6 L806.2,1318.6 L807.7,1317.2 L809.2,1317.4 L810.7,1319.8 L812.2,1320.4 L813.7,1319.9 L814.5,1319.5 L815.2,1321.3 L816.7,1323.6 L818.2,1325.2 L819.7,1330.0 L821.2,1332.5 L822.0,1333.4 L822.7,1334.6 L824.2,1335.9 L825.7,1335.4 L827.2,1336.0 L828.7,1337.8 L830.0,1339.8 L830.2,1339.3 L831.7,1335.8 L833.2,1334.3 L834.7,1331.1 L836.2,1328.2 L837.5,1328.4 L837.7,1327.2 L839.2,1327.2 L840.7,1326.2 L842.2,1326.2 L843.7,1324.8 L845.0,1324.6 L845.2,1322.6 L846.7,1322.2 L848.2,1319.5 L849.7,1319.0 L850.0,1318.3 L850.9,1328.9 L851.2,1318.4 L851.4,1309.7 L852.2,1281.0 L852.7,1258.2 L853.0,1245.7 L853.9,1201.3 L854.2,1177.6 L854.6,1154.4 L855.3,1108.8 L855.7,1081.5 L856.0,1068.6 L856.3,1049.8 L856.8,1031.1 L857.2,1032.4 L858.7,1032.3 L859.2,1030.7 L859.6,1051.0 L859.9,1066.7 L860.2,1084.4 L860.6,1106.4 L861.3,1152.4 L861.7,1180.2 L862.0,1197.6 L862.9,1243.4 L863.2,1258.6 L863.7,1276.2 L864.4,1302.8 L864.7,1316.7 L865.0,1324.0 L866.2,1325.0 L867.4,1323.9 L867.7,1324.4 L869.2,1327.9 L870.7,1328.5 L872.2,1330.1 L873.7,1332.2 L873.7,1331.9 L875.2,1329.6 L876.7,1324.0 L878.2,1321.4 L878.7,1321.0 L879.7,1321.1 L881.2,1320.1 L882.7,1321.3 L883.7,1319.5 L884.2,1321.7 L885.7,1329.3 L887.2,1332.9 L887.4,1334.8 L888.7,1335.4 L890.2,1337.8 L891.7,1337.4 L893.2,1337.7 L894.7,1340.9 L894.9,1340.3 L896.2,1339.7 L897.7,1342.0 L899.2,1342.4 L900.7,1344.6 L901.1,1342.6 L902.2,1342.6 L903.7,1340.9 L905.2,1338.0 L906.7,1335.5 L907.4,1333.9 L908.2,1332.0 L909.7,1329.7 L911.2,1328.4 L912.7,1328.8 L914.2,1326.9 L914.9,1324.6 L915.7,1326.5 L917.2,1324.3 L918.7,1322.6 L919.9,1323.2 L920.2,1323.3 L921.7,1324.7 L923.2,1328.1 L924.7,1329.8 L926.1,1330.2 L926.2,1331.5 L927.7,1328.4 L929.2,1324.9 L930.7,1322.4 L931.1,1323.1 L932.2,1322.7 L933.7,1325.7 L935.0,1324.9 L935.2,1321.1 L935.5,1310.8 L936.2,1292.1 L936.7,1274.4 L936.9,1270.1 L937.6,1236.1 L938.2,1205.1 L938.2,1200.8 L938.7,1174.8 L939.3,1146.9 L939.7,1125.1 L939.7,1125.3 L941.2,1121.6 L942.3,1120.5 L942.6,1134.2 L942.7,1139.2 L943.5,1173.3 L944.0,1207.2 L944.2,1220.3 L944.6,1239.2 L945.3,1271.4 L945.7,1284.3 L946.1,1296.3 L946.7,1314.6 L947.2,1329.2 L947.2,1329.3 L948.7,1331.9 L950.2,1334.4 L951.7,1335.8 L953.2,1334.8 L954.7,1335.6 L956.1,1337.7 L956.2,1337.5 L957.7,1334.9 L959.2,1334.5 L960.7,1331.5 L962.2,1327.1 L963.7,1325.8 L964.8,1323.6 L965.2,1325.1 L966.7,1326.6 L968.2,1327.4 L969.7,1329.3 L971.2,1331.6 L972.3,1333.7 L972.7,1332.9 L974.2,1334.6 L975.7,1336.0 L977.2,1337.8 L978.7,1339.1 L979.8,1339.1 L980.2,1339.8 L981.7,1340.5 L983.2,1338.4 L984.7,1340.5 L986.2,1338.7 L987.7,1339.5 L989.2,1339.0 L989.8,1339.9 L990.7,1340.5 L992.2,1340.7 L993.7,1340.6 L995.2,1340.7 L996.7,1339.4 L998.2,1340.4 L999.7,1339.9 L999.7,1338.9 L1001.2,1337.3 L1002.7,1335.1 L1004.2,1334.3 L1005.7,1333.2 L1007.2,1331.4 L1008.5,1332.6 L1008.7,1332.0 L1010.2,1327.8 L1011.7,1324.1 L1013.2,1322.4 L1013.5,1321.5 L1014.7,1323.6 L1016.2,1324.3 L1017.7,1325.9 L1019.2,1329.8 L1020.7,1331.7 L1022.2,1334.8 L1022.2,1334.4 L1023.7,1334.3 L1025.2,1332.3 L1026.7,1330.8 L1028.2,1327.4 L1029.7,1324.2 L1029.7,1322.4 L1031.2,1311.0 L1032.7,1292.4 L1033.4,1285.3 L1034.2,1281.2 L1035.7,1273.4 L1037.2,1265.6 L1038.7,1258.2 L1039.7,1253.5 L1040.2,1256.4 L1041.7,1260.1 L1043.2,1268.2 L1044.2,1274.2 L1044.7,1283.9 L1046.2,1311.8 L1047.2,1324.3 L1047.7,1327.8 L1049.2,1332.7 L1050.7,1334.6 L1052.2,1338.1 L1053.4,1338.3 L1053.7,1337.1 L1055.2,1337.0 L1056.7,1336.0 L1058.2,1336.0 L1059.7,1334.1 L1061.2,1333.9 L1062.7,1332.1 L1064.2,1332.6 L1064.6,1333.3 L1065.7,1331.1 L1067.2,1332.9 L1068.7,1332.9 L1070.2,1333.5 L1071.7,1330.9 L1072.1,1332.3 L1073.2,1330.8 L1074.7,1330.5 L1076.2,1330.2 L1077.7,1329.0 L1079.2,1327.2 L1079.6,1327.0 L1080.7,1329.9 L1082.2,1331.2 L1083.7,1335.3 L1085.2,1337.1 L1086.7,1338.0 L1087.1,1338.3 L1088.2,1339.2 L1089.7,1341.1 L1091.2,1340.8 L1092.7,1341.2 L1094.2,1341.0 L1095.7,1339.5 L1097.2,1339.8 L1098.3,1339.8 L1098.7,1341.4 L1100.2,1337.9 L1101.7,1339.2 L1103.2,1335.4 L1104.7,1335.0 L1106.2,1332.9 L1107.1,1332.4 L1107.7,1333.4 L1109.2,1332.5 L1110.7,1332.3 L1112.2,1330.5 L1113.7,1330.5 L1114.6,1332.1 L1115.2,1330.9 L1116.7,1334.8 L1118.2,1336.9 L1119.7,1337.8 L1121.2,1340.0 L1122.1,1339.5 L1122.7,1339.5 L1124.2,1335.0 L1125.7,1331.9 L1127.2,1329.1 L1128.7,1326.5 L1130.2,1326.3 L1130.8,1326.1 L1131.7,1324.4 L1133.2,1326.0 L1134.7,1326.0 L1136.2,1326.9 L1137.0,1328.5 L1137.7,1326.8 L1139.2,1323.4 L1140.7,1323.0 L1142.2,1322.7 L1143.3,1322.2 L1143.7,1322.4 L1145.2,1323.5 L1146.7,1323.8 L1148.2,1327.0 L1149.5,1325.9 L1149.7,1327.2 L1151.2,1322.0 L1152.7,1318.5 L1154.2,1316.7 L1155.7,1310.9 L1155.8,1311.8 L1157.2,1305.6 L1158.7,1298.4 L1160.2,1292.1 L1161.7,1287.7 L1162.0,1288.1 L1163.2,1290.9 L1164.7,1297.6 L1165.7,1301.5 L1166.2,1302.6 L1167.7,1314.9 L1169.2,1325.6 L1169.5,1326.1 L1170.7,1328.5 L1172.2,1331.4 L1173.7,1330.9 L1175.2,1333.9 L1176.7,1335.8 L1178.2,1335.1 L1179.3,1337.6 L1179.7,1335.6 L1181.2,1337.5 L1182.7,1335.3 L1184.2,1334.7 L1185.7,1335.9 L1187.2,1333.5 L1188.7,1332.6 L1190.2,1332.2 L1191.7,1332.6 L1191.8,1330.7 L1193.2,1330.0 L1194.7,1328.4 L1196.2,1328.2 L1197.7,1325.6 L1199.2,1327.1 L1199.3,1325.8 L1200.7,1328.1 L1202.2,1329.6 L1203.7,1333.7 L1205.2,1333.9 L1205.5,1334.3 L1206.7,1335.1 L1208.2,1330.3 L1209.7,1327.8 L1211.2,1324.8 L1212.7,1321.8 L1213.0,1322.6 L1214.2,1322.9 L1215.7,1326.0 L1217.2,1327.2 L1218.7,1330.2 L1220.2,1332.9 L1221.7,1333.8 L1223.2,1335.9 L1224.2,1336.7 L1224.7,1337.7 L1226.2,1337.8 L1227.7,1338.9 L1229.2,1336.8 L1230.7,1336.1 L1232.2,1338.0 L1233.7,1336.5 L1235.2,1337.4 L1236.7,1335.3 L1238.2,1334.0 L1239.2,1334.8 L1239.7,1336.3 L1241.2,1334.5 L1242.7,1337.0 L1244.2,1339.8 L1245.7,1339.5 L1246.7,1341.9 L1247.2,1339.6 L1248.7,1338.7 L1250.2,1335.9 L1251.7,1335.5 L1253.2,1332.0 L1254.7,1329.2 L1256.2,1329.5 L1256.7,1328.1 L1257.7,1327.2 L1259.2,1327.7 L1260.7,1327.3 L1262.2,1327.8 L1263.7,1325.0 L1265.2,1327.0 L1266.7,1326.0 L1266.7,1324.6 L1268.2,1324.9 L1269.7,1323.5 L1271.2,1325.4 L1272.7,1322.6 L1274.2,1321.9 L1274.2,1323.2 L1275.7,1321.7 L1277.2,1318.5 L1278.7,1317.4 L1279.2,1317.0 L1280.2,1317.9 L1281.7,1321.4 L1283.2,1320.7 L1284.7,1322.3 L1285.4,1323.7 L1286.2,1326.5 L1287.7,1331.5 L1289.1,1335.6 L1289.2,1335.3 L1290.7,1334.1 L1292.2,1335.2 L1293.7,1335.7 L1295.2,1335.1 L1296.7,1335.3 L1298.2,1335.6 L1299.1,1333.2 L1299.7,1333.7 L1301.2,1330.3 L1302.7,1325.1 L1304.2,1321.9 L1305.7,1317.7 L1306.6,1316.1 L1307.2,1314.1 L1308.7,1315.7 L1310.2,1314.6 L1311.7,1316.8 L1312.9,1314.8 L1313.2,1315.4 L1314.7,1302.5 L1316.2,1291.1 L1316.6,1288.3 L1317.7,1278.4 L1319.2,1268.2 L1320.7,1261.5 L1322.2,1253.8 L1323.7,1245.3 L1324.6,1244.3 L1325.2,1247.0 L1326.7,1257.8 L1328.2,1274.5 L1329.7,1288.5 L1331.1,1297.7 L1331.2,1299.4 L1332.7,1305.3 L1334.2,1312.3 L1335.7,1317.3 L1336.6,1317.8 L1337.2,1321.0 L1338.7,1324.5 L1340.2,1327.5 L1341.7,1331.1 L1342.8,1332.6 L1343.2,1331.8 L1344.7,1334.9 L1346.2,1336.2 L1347.7,1337.7 L1349.2,1337.4 L1350.7,1336.4 L1352.2,1338.8 L1353.7,1336.8 L1354.0,1336.5 L1355.2,1335.1 L1356.7,1334.1 L1358.2,1331.3 L1359.7,1330.6 L1360.3,1328.5 L1361.2,1329.3 L1362.7,1334.0 L1364.2,1333.6 L1365.3,1335.2 L1365.7,1334.0 L1367.2,1335.4 L1368.7,1334.1 L1370.2,1331.7"/>
<path stroke="#ff0000" stroke-width="9.7" d="M183.7,2018.9 L185.2,2018.6 L186.7,2019.0 L188.2,2019.1 L189.7,2019.3 L191.2,2019.5 L192.7,2018.9 L194.2,2019.8 L195.7,2018.7 L197.2,2019.1 L198.7,2020.4 L200.2,2018.5 L201.7,2018.6 L202.5,2018.6 L203.2,2019.3 L204.7,2017.8 L206.2,2017.2 L207.7,2017.6 L209.2,2016.4 L210.7,2018.1 L212.2,2018.7 L213.7,2018.3 L214.9,2018.7 L215.2,2017.9 L216.7,2016.8 L218.2,2017.7 L219.7,2017.3 L221.2,2017.8 L222.7,2016.6 L224.2,2017.2 L225.7,2019.3 L227.2,2017.9 L228.7,2018.2 L229.9,2019.2 L230.2,2017.2 L231.7,2016.3 L233.2,2017.4 L234.7,2017.0 L236.2,2017.4 L237.7,2016.1 L239.2,2017.4 L240.7,2016.3 L242.2,2017.0 L243.7,2018.3 L244.9,2016.5 L245.2,2017.1 L246.7,2018.8 L248.2,2018.1 L249.7,2016.1 L251.2,2016.4 L252.7,2016.1 L254.2,2015.9 L255.7,2017.3 L257.2,2015.5 L258.7,2017.2 L260.2,2014.8 L261.7,2017.0 L262.4,2016.4 L263.2,2015.8 L264.7,2016.7 L266.2,2016.1 L267.7,2017.0 L269.2,2015.5 L270.7,2017.4 L272.2,2019.4 L272.3,2019.6 L273.7,2018.1 L275.2,2018.2 L276.7,2019.6 L278.2,2017.4 L279.7,2015.8 L281.2,2017.1 L282.7,2016.0 L284.2,2016.8 L284.8,2016.1 L285.7,2016.3 L287.2,2016.2 L288.7,2015.8 L290.2,2017.3 L291.7,2016.5 L293.2,2016.8 L294.7,2017.2 L296.2,2015.9 L297.3,2018.1 L297.7,2017.8 L299.2,2015.7 L300.7,2014.0 L302.2,2010.5 L303.5,2010.1 L303.7,2008.0 L305.2,2004.4 L306.7,1998.2 L308.2,1994.0 L308.5,1995.0 L309.7,1994.9 L311.2,1996.0 L312.7,1997.4 L314.2,1999.2 L315.7,1997.7 L316.0,1999.4 L317.2,1995.7 L318.7,1989.2 L320.2,1981.4 L321.0,1977.7 L321.7,1975.1 L323.2,1966.1 L324.7,1960.3 L324.8,1960.6 L326.2,1962.2 L327.7,1968.2 L329.2,1972.7 L330.7,1977.0 L331.0,1977.1 L332.2,1976.6 L333.7,1974.1 L333.7,1974.9 L334.2,1959.8 L335.2,1951.6 L335.4,1948.7 L335.9,1935.0 L336.5,1918.9 L336.7,1913.9 L337.2,1904.6 L337.9,1892.0 L338.2,1887.7 L338.5,1887.0 L339.0,1882.7 L339.7,1879.1 L339.7,1880.1 L341.2,1892.5 L342.7,1905.6 L343.5,1914.0 L344.2,1923.2 L345.7,1938.4 L347.2,1952.7 L347.2,1952.2 L348.7,1950.2 L349.6,1947.2 L350.1,1925.9 L350.2,1922.4 L351.4,1908.9 L351.7,1892.3 L351.9,1887.2 L352.5,1865.1 L353.2,1844.9 L353.2,1844.5 L354.1,1823.7 L354.6,1814.7 L354.7,1813.7 L355.2,1809.2 L356.0,1807.6 L356.2,1807.8 L356.6,1809.4 L357.1,1813.9 L357.6,1819.8 L357.7,1823.6 L358.3,1838.1 L358.9,1855.7 L359.2,1865.4 L359.4,1872.1 L359.9,1892.3 L360.7,1901.2 L360.9,1904.9 L361.4,1922.5 L362.2,1927.3 L362.2,1927.3 L363.7,1924.5 L364.8,1919.6 L365.2,1896.4 L365.4,1887.7 L366.7,1866.0 L366.7,1865.3 L367.3,1835.0 L367.9,1802.5 L368.2,1790.2 L368.7,1772.5 L369.6,1744.4 L369.7,1741.6 L370.2,1733.3 L370.9,1722.4 L371.2,1722.6 L371.7,1719.0 L372.5,1723.2 L372.7,1727.0 L373.1,1731.3 L373.7,1744.0 L374.2,1756.4 L374.7,1770.6 L375.4,1800.1 L375.7,1812.6 L376.1,1828.4 L376.6,1859.4 L377.2,1869.4 L378.0,1881.1 L378.3,1899.9 L378.7,1902.7 L380.2,1913.7 L381.7,1919.4 L381.7,1919.6 L382.7,1911.6 L383.2,1874.8 L383.2,1873.3 L384.5,1848.1 L384.7,1833.2 L385.0,1812.4 L385.6,1778.1 L386.2,1749.6 L386.4,1743.4 L387.2,1712.0 L387.7,1698.8 L387.8,1698.2 L388.4,1689.1 L389.2,1684.0 L389.2,1683.7 L390.0,1688.5 L390.7,1696.8 L390.7,1698.5 L391.3,1711.0 L392.2,1742.4 L392.2,1743.5 L393.1,1776.2 L393.7,1810.8 L393.7,1813.4 L394.3,1846.7 L395.2,1863.5 L395.7,1871.5 L396.0,1892.8 L396.7,1901.7 L398.2,1912.7 L399.2,1917.6 L399.7,1916.4 L401.2,1907.8 L401.4,1907.1 L402.1,1864.0 L402.7,1850.2 L403.5,1833.5 L404.1,1793.9 L404.2,1786.8 L404.8,1750.3 L405.7,1710.6 L405.7,1709.5 L406.7,1675.4 L407.2,1660.0 L407.3,1656.5 L408.0,1647.7 L408.7,1643.2 L408.9,1642.1 L409.8,1646.9 L410.2,1653.5 L410.5,1659.0 L411.1,1674.0 L411.7,1697.3 L412.1,1711.4 L413.0,1752.0 L413.2,1769.1 L413.7,1794.7 L414.3,1835.7 L414.7,1846.0 L415.7,1868.5 L416.1,1891.7 L416.2,1894.9 L417.7,1910.3 L419.2,1917.6 L419.6,1920.3 L420.7,1916.6 L421.7,1908.6 L422.2,1866.7 L422.4,1856.5 L423.7,1825.1 L423.9,1819.2 L424.5,1770.9 L425.2,1724.7 L425.3,1720.1 L426.2,1669.4 L426.7,1646.5 L427.2,1626.8 L427.9,1605.5 L428.2,1600.6 L428.6,1592.7 L429.6,1586.2 L429.7,1586.6 L430.6,1594.4 L431.2,1604.7 L431.3,1606.3 L432.0,1626.5 L432.7,1656.1 L433.0,1671.4 L434.0,1723.6 L434.2,1741.5 L434.7,1773.6 L435.4,1824.4 L435.7,1835.6 L436.9,1862.2 L437.2,1887.9 L437.3,1893.1 L438.7,1912.3 L440.2,1927.7 L440.3,1926.3 L441.7,1923.9 L443.2,1917.2 L443.3,1915.9 L443.9,1861.0 L444.7,1842.6 L445.5,1823.8 L446.2,1770.3 L446.2,1764.5 L446.9,1718.3 L447.7,1669.6 L447.9,1664.9 L448.9,1619.7 L449.2,1607.8 L449.6,1597.5 L450.3,1583.8 L450.7,1579.0 L451.3,1575.3 L452.2,1581.0 L452.3,1582.0 L453.0,1596.1 L453.7,1617.1 L453.8,1619.2 L454.8,1665.5 L455.2,1687.9 L455.8,1719.1 L456.5,1773.2 L456.7,1788.5 L457.2,1826.3 L458.2,1849.6 L458.8,1865.5 L459.2,1898.7 L459.7,1903.7 L461.2,1916.2 L462.7,1925.5 L464.2,1932.4 L464.6,1935.0 L465.7,1931.4 L467.2,1921.5 L467.2,1922.0 L467.9,1862.3 L468.7,1840.0 L469.5,1819.2 L470.2,1762.6 L470.2,1761.9 L471.0,1705.0 L471.7,1660.0 L472.0,1646.0 L473.1,1598.5 L473.2,1590.7 L473.8,1575.7 L474.5,1558.0 L474.7,1558.5 L475.5,1551.1 L476.2,1556.9 L476.6,1557.8 L477.3,1574.5 L477.7,1586.8 L478.0,1598.4 L479.1,1648.6 L479.2,1652.8 L480.1,1706.8 L480.7,1753.6 L480.9,1763.2 L481.6,1822.7 L482.2,1840.9 L483.2,1865.9 L483.6,1899.8 L483.7,1902.9 L485.2,1916.8 L486.7,1929.4 L488.2,1935.6 L489.0,1937.5 L489.7,1938.1 L491.2,1933.0 L492.7,1931.1 L494.2,1925.1 L494.4,1925.1 L495.1,1860.7 L495.7,1842.5 L496.8,1813.5 L497.2,1777.4 L497.5,1750.8 L498.3,1690.3 L498.7,1661.5 L499.3,1626.6 L500.2,1581.5 L500.4,1573.1 L501.2,1548.8 L501.7,1535.6 L501.9,1531.6 L503.0,1522.1 L503.2,1524.0 L504.0,1530.9 L504.7,1547.6 L504.8,1547.6 L505.6,1574.9 L506.2,1606.9 L506.7,1630.3 L507.7,1693.1 L507.7,1697.7 L508.5,1757.6 L509.2,1821.7 L509.2,1823.2 L510.7,1866.0 L510.9,1870.0 L511.3,1908.6 L512.2,1917.1 L513.7,1927.6 L515.2,1938.1 L516.7,1943.5 L518.2,1947.7 L518.7,1950.7 L519.7,1946.4 L521.2,1940.8 L521.9,1936.1 L522.6,1870.6 L522.7,1866.5 L524.2,1827.4 L524.3,1826.1 L525.0,1763.6 L525.7,1703.8 L525.8,1700.8 L526.8,1639.7 L527.2,1615.5 L527.9,1585.9 L528.6,1560.9 L528.7,1557.8 L529.4,1542.5 L530.2,1536.8 L530.5,1534.6 L531.5,1543.4 L531.7,1546.5 L532.3,1558.9 L533.0,1584.9 L533.2,1595.1 L534.2,1638.9 L534.7,1677.1 L535.1,1704.4 L535.9,1767.4 L536.2,1794.7 L536.6,1829.6 L537.7,1858.4 L538.3,1876.6 L538.7,1914.1 L539.2,1918.9 L540.7,1929.9 L542.2,1936.2 L543.7,1943.7 L545.2,1947.4 L546.7,1951.0 L547.4,1954.4 L548.2,1954.5 L549.7,1955.3 L551.2,1956.7 L552.4,1958.4 L552.7,1955.4 L553.7,1941.8 L554.2,1889.9 L554.4,1877.8 L555.7,1840.6 L556.0,1832.8 L556.6,1772.8 L557.2,1722.1 L557.4,1710.2 L558.3,1648.3 L558.7,1627.8 L559.4,1595.3 L560.2,1571.2 L560.2,1569.5 L560.9,1552.8 L561.7,1547.6 L561.9,1545.5 L563.0,1555.3 L563.2,1559.9 L563.7,1570.0 L564.5,1596.9 L564.7,1607.9 L565.6,1650.3 L566.2,1689.7 L566.6,1712.9 L567.4,1774.4 L567.7,1808.2 L568.1,1837.8 L569.2,1867.6 L569.8,1883.1 L570.2,1922.7 L570.7,1926.6 L572.2,1933.8 L573.7,1942.0 L575.2,1946.7 L576.7,1952.2 L578.2,1956.8 L579.7,1961.1 L581.2,1965.3 L582.4,1966.5 L582.7,1965.3 L584.2,1964.8 L585.7,1960.9 L587.2,1958.1 L588.7,1954.3 L590.2,1950.2 L590.2,1949.7 L590.9,1890.4 L591.7,1870.0 L592.5,1846.4 L593.2,1789.6 L593.2,1786.4 L594.0,1728.6 L594.7,1683.2 L595.0,1670.4 L596.1,1618.6 L596.2,1613.6 L596.8,1596.7 L597.6,1579.8 L597.7,1579.3 L598.6,1572.7 L599.2,1575.4 L599.6,1580.2 L600.4,1595.1 L600.7,1605.8 L601.1,1620.9 L602.2,1671.2 L602.3,1672.0 L603.2,1732.9 L603.7,1771.1 L604.0,1795.5 L604.7,1856.2 L605.2,1869.3 L606.4,1901.2 L606.7,1931.1 L606.8,1935.9 L608.2,1948.8 L609.7,1960.5 L611.2,1969.4 L612.7,1974.2 L613.6,1976.2 L614.2,1977.3 L615.7,1975.7 L617.2,1976.5 L618.7,1975.1 L620.2,1972.9 L621.1,1973.5 L621.7,1972.8 L623.2,1972.5 L624.7,1970.8 L626.2,1968.3 L627.3,1968.2 L627.7,1966.4 L629.2,1964.5 L629.8,1962.5 L630.5,1904.8 L630.7,1896.2 L632.1,1864.1 L632.2,1854.0 L632.8,1808.3 L633.5,1750.5 L633.7,1740.9 L634.5,1697.1 L635.2,1662.2 L635.6,1646.3 L636.3,1626.1 L636.7,1615.8 L637.0,1609.4 L638.0,1602.9 L638.2,1604.4 L639.1,1609.0 L639.7,1623.9 L639.8,1625.7 L640.5,1649.3 L641.2,1677.5 L641.6,1697.6 L642.6,1755.3 L642.7,1766.0 L643.4,1812.7 L644.0,1869.2 L644.2,1875.2 L645.7,1910.9 L645.7,1915.5 L646.1,1945.8 L647.2,1952.2 L648.7,1958.6 L650.2,1967.2 L651.7,1971.9 L653.2,1976.0 L654.7,1978.0 L656.0,1982.9 L656.2,1982.0 L657.7,1984.2 L659.2,1983.0 L660.7,1983.6 L662.2,1982.8 L662.3,1982.5 L663.7,1982.2 L665.2,1982.2 L666.7,1980.8 L668.2,1980.1 L669.7,1981.5 L671.2,1979.8 L672.7,1978.4 L674.2,1974.0 L674.8,1972.6 L675.4,1922.0 L675.7,1910.9 L677.0,1883.9 L677.2,1866.0 L677.6,1832.7 L678.4,1781.3 L678.7,1760.3 L679.3,1729.5 L680.2,1689.0 L680.3,1685.5 L681.0,1665.4 L681.7,1651.4 L681.8,1653.1 L682.7,1646.3 L683.2,1647.3 L683.7,1652.2 L684.4,1667.0 L684.7,1674.7 L685.1,1686.5 L686.2,1733.5 L686.2,1734.2 L687.1,1785.4 L687.7,1827.7 L687.9,1837.0 L688.5,1890.6 L689.2,1906.7 L690.1,1928.9 L690.5,1959.2 L690.7,1961.5 L692.2,1964.9 L693.7,1970.7 L695.2,1972.2 L696.7,1977.5 L698.2,1981.8 L699.7,1985.4 L701.2,1987.2 L702.7,1989.4 L704.2,1990.6 L705.7,1993.7 L707.2,1995.0 L708.4,1995.4 L708.7,1995.1 L710.2,1994.5 L711.7,1991.0 L713.2,1986.8 L713.4,1986.4 L714.7,1981.1 L716.2,1969.6 L717.7,1958.0 L719.2,1947.2 L720.7,1938.7 L720.9,1940.3 L722.2,1940.0 L723.7,1941.6 L725.2,1942.6 L725.9,1942.0 L726.7,1937.7 L726.9,1935.8 L727.4,1895.8 L728.2,1879.7 L728.7,1870.3 L729.2,1835.8 L729.7,1804.9 L729.8,1799.4 L730.6,1761.6 L731.2,1738.3 L731.5,1731.6 L732.0,1716.6 L732.6,1706.0 L732.7,1705.5 L733.4,1702.0 L734.2,1706.1 L734.3,1706.0 L735.0,1716.6 L735.6,1733.8 L735.7,1736.6 L736.6,1766.4 L737.2,1797.3 L737.4,1808.2 L738.1,1847.7 L738.7,1885.9 L738.7,1885.7 L740.1,1915.0 L740.2,1921.8 L740.5,1939.2 L741.7,1962.4 L742.1,1966.6 L743.2,1964.5 L744.7,1960.5 L746.2,1954.3 L747.7,1948.0 L749.2,1945.3 L750.4,1943.5 L750.7,1943.6 L752.2,1949.3 L753.7,1960.1 L754.6,1965.1 L755.2,1968.3 L756.7,1976.3 L758.2,1985.8 L759.7,1991.6 L760.9,1997.1 L761.2,1998.7 L762.7,2000.1 L764.2,2000.5 L765.7,2000.5 L767.1,2001.1 L767.2,2000.2 L768.7,1995.5 L770.2,1991.7 L770.8,1988.4 L771.7,1983.1 L773.2,1973.6 L774.7,1963.4 L776.2,1954.8 L777.7,1949.6 L778.3,1946.8 L779.2,1950.3 L780.7,1960.5 L782.2,1967.2 L783.3,1973.9 L783.7,1972.2 L785.2,1972.1 L786.5,1970.2 L786.7,1963.7 L787.0,1952.2 L788.2,1942.8 L788.2,1941.4 L788.7,1926.5 L789.3,1911.9 L789.7,1901.7 L790.0,1896.2 L790.8,1883.0 L791.2,1876.9 L791.3,1876.2 L791.8,1873.4 L792.6,1872.3 L792.7,1870.2 L793.3,1873.9 L793.9,1878.6 L794.2,1883.6 L794.4,1885.1 L795.2,1900.8 L795.7,1913.2 L795.9,1920.6 L796.5,1939.0 L797.0,1957.2 L797.2,1958.1 L798.2,1969.3 L798.6,1980.0 L798.7,1982.5 L800.2,1989.9 L800.8,1993.1 L801.7,1989.7 L803.2,1980.5 L804.7,1969.6 L805.8,1963.1 L806.2,1961.0 L807.7,1950.5 L809.0,1942.1 L809.2,1943.8 L810.7,1950.5 L812.2,1958.3 L813.3,1964.7 L813.7,1968.2 L815.2,1978.9 L816.7,1991.5 L818.2,2003.5 L818.3,2002.2 L819.7,2003.7 L821.2,2007.0 L822.7,2007.9 L824.2,2008.2 L824.5,2010.4 L825.7,2009.5 L827.2,2011.3 L828.7,2009.6 L830.0,2008.9 L830.2,2011.1 L831.7,2007.8 L833.2,2007.7 L834.7,2004.3 L836.2,2002.6 L836.2,2001.0 L837.7,1993.6 L839.2,1984.4 L840.7,1973.8 L842.2,1962.6 L843.7,1954.2 L844.5,1950.9 L845.2,1955.2 L846.7,1964.7 L848.2,1978.5 L849.7,1992.6 L851.2,2003.8 L851.2,2003.2 L852.7,2004.7 L854.2,2006.7 L855.0,2007.7 L855.7,2000.0 L857.2,1977.2 L858.0,1968.5 L858.7,1963.9 L860.2,1956.7 L861.2,1952.3 L861.7,1956.0 L863.2,1962.8 L864.4,1970.8 L864.7,1974.0 L866.2,1997.2 L867.4,2011.2 L867.7,2010.3 L869.2,2010.2 L870.7,2009.4 L872.2,2009.6 L873.7,2008.8 L873.7,2009.3 L875.2,2000.0 L876.7,1988.7 L878.2,1975.7 L879.7,1963.9 L880.7,1959.3 L881.2,1960.5 L882.7,1968.0 L884.2,1975.5 L885.7,1982.6 L887.2,1991.6 L888.7,1998.0 L889.9,2003.5 L890.2,2003.4 L891.7,2007.7 L893.2,2009.1 L894.7,2012.1 L896.2,2013.6 L896.2,2012.2 L897.7,2014.5 L899.2,2016.6 L900.7,2018.4 L902.2,2018.2 L902.4,2017.4 L903.7,2017.6 L905.2,2016.7 L906.7,2016.5 L908.2,2014.2 L909.7,2011.1 L911.2,2012.2 L912.4,2008.5 L912.7,2007.4 L914.2,1998.9 L915.7,1985.9 L917.2,1975.2 L917.4,1973.7 L918.7,1969.2 L920.2,1964.7 L921.7,1963.2 L921.9,1961.9 L923.2,1964.5 L924.7,1969.7 L926.1,1974.8 L926.2,1977.8 L927.7,1989.9 L929.2,2004.0 L929.9,2009.1 L930.7,2008.8 L932.2,2010.8 L933.6,2010.6 L933.7,2010.2 L935.2,2007.9 L936.3,2005.4 L936.7,1992.7 L936.8,1990.9 L938.0,1977.9 L938.2,1971.6 L938.5,1964.8 L939.0,1949.9 L939.7,1934.8 L939.7,1933.7 L940.5,1920.7 L941.1,1915.6 L941.2,1913.5 L941.6,1912.2 L942.3,1910.3 L942.7,1911.1 L943.1,1912.0 L943.6,1916.9 L944.1,1922.1 L944.2,1922.7 L944.9,1934.7 L945.6,1949.9 L945.7,1953.8 L946.2,1967.3 L946.7,1982.4 L947.2,1986.2 L947.9,1994.0 L948.2,2003.4 L948.7,2004.2 L950.2,2008.5 L951.7,2009.8 L953.2,2013.2 L953.6,2011.9 L954.7,2011.5 L956.2,2010.6 L957.3,2008.2 L957.7,2005.4 L959.2,1996.8 L960.7,1985.5 L961.1,1984.7 L962.2,1981.2 L963.7,1979.0 L965.2,1977.1 L966.0,1974.8 L966.7,1975.9 L968.2,1978.5 L969.7,1982.0 L971.2,1987.5 L972.3,1988.7 L972.7,1989.8 L974.2,1993.6 L975.7,1995.1 L977.2,2000.5 L978.7,2003.8 L979.8,2005.7 L980.2,2007.3 L981.7,2009.4 L983.2,2010.6 L984.7,2012.5 L986.0,2014.1 L986.2,2012.8 L987.7,2014.6 L989.2,2013.9 L990.7,2015.4 L992.2,2015.1 L993.7,2015.0 L994.8,2016.1 L995.2,2014.2 L996.7,2010.6 L998.2,2007.5 L999.7,2002.6 L1001.0,2000.6 L1001.2,1997.5 L1002.7,1992.3 L1004.2,1986.2 L1004.7,1983.7 L1005.7,1985.3 L1007.2,1985.3 L1008.7,1985.6 L1009.7,1987.8 L1010.2,1984.7 L1011.7,1981.6 L1013.2,1974.8 L1014.7,1970.7 L1014.7,1970.4 L1016.2,1975.2 L1017.7,1981.8 L1019.2,1986.8 L1020.7,1995.8 L1022.2,2003.7 L1023.5,2007.0 L1023.7,2007.4 L1025.2,2010.3 L1026.7,2008.5 L1028.2,2009.8 L1028.5,2010.1 L1029.7,2006.7 L1031.2,2000.2 L1032.7,1997.5 L1033.4,1992.6 L1034.2,1987.6 L1035.7,1977.4 L1037.2,1962.6 L1038.7,1949.8 L1040.2,1939.5 L1041.7,1931.0 L1041.7,1931.3 L1043.2,1939.5 L1044.7,1947.5 L1046.2,1961.9 L1047.7,1973.3 L1049.2,1985.1 L1050.7,1992.8 L1050.9,1996.2 L1052.2,1998.8 L1053.7,2003.0 L1055.2,2007.1 L1055.9,2007.6 L1056.7,2009.5 L1058.2,2010.1 L1059.7,2009.3 L1061.2,2009.4 L1062.7,2009.9 L1063.4,2011.3 L1064.2,2005.7 L1065.7,1996.6 L1067.1,1987.6 L1067.2,1988.2 L1068.7,1986.2 L1070.2,1982.3 L1070.4,1981.1 L1071.7,1985.1 L1073.2,1989.4 L1074.7,1991.9 L1075.9,1993.1 L1076.2,1993.3 L1077.7,1990.7 L1079.2,1985.4 L1080.4,1982.0 L1080.7,1984.1 L1082.2,1984.1 L1083.7,1986.4 L1085.2,1987.6 L1085.9,1987.6 L1086.7,1992.2 L1088.2,2001.3 L1089.6,2009.1 L1089.7,2008.2 L1091.2,2012.0 L1092.7,2013.5 L1094.2,2015.4 L1095.7,2015.9 L1095.9,2018.0 L1097.2,2017.4 L1098.7,2013.3 L1100.2,2011.7 L1101.7,2009.9 L1102.1,2010.1 L1103.2,2013.1 L1104.7,2016.4 L1105.3,2015.9 L1106.2,2015.7 L1107.7,2016.8 L1109.2,2017.2 L1110.7,2016.1 L1110.8,2016.0 L1112.2,2009.9 L1113.7,2001.2 L1115.2,1992.1 L1115.8,1988.1 L1116.7,1985.8 L1118.2,1976.8 L1119.7,1970.9 L1120.3,1968.6 L1121.2,1971.2 L1122.7,1974.0 L1124.2,1981.0 L1124.6,1982.5 L1125.7,1989.0 L1127.1,1998.6 L1127.2,1997.4 L1128.7,1997.9 L1130.2,1995.5 L1131.7,1992.9 L1132.0,1995.3 L1133.2,1998.1 L1134.7,2001.2 L1136.2,2007.3 L1137.0,2007.4 L1137.7,2009.8 L1139.2,2010.2 L1140.7,2010.6 L1142.2,2012.2 L1143.7,2013.5 L1145.2,2012.6 L1145.8,2015.1 L1146.7,2013.5 L1148.2,2013.2 L1149.7,2014.0 L1151.2,2013.3 L1152.7,2012.0 L1154.2,2011.2 L1155.7,2010.6 L1157.2,2009.1 L1158.6,2008.2 L1158.7,2006.7 L1159.2,1985.4 L1160.2,1975.6 L1160.4,1970.9 L1160.9,1950.1 L1161.5,1930.5 L1161.7,1924.5 L1162.3,1909.6 L1163.1,1892.5 L1163.2,1888.0 L1163.7,1882.1 L1164.2,1876.7 L1164.7,1875.6 L1165.0,1874.4 L1165.8,1878.0 L1166.2,1881.8 L1166.3,1881.9 L1166.9,1892.4 L1167.7,1909.6 L1167.7,1909.5 L1168.5,1930.2 L1169.1,1952.8 L1169.2,1959.2 L1169.6,1971.6 L1170.7,1986.1 L1170.8,1989.1 L1171.1,1999.5 L1172.2,2000.1 L1173.7,2001.1 L1175.2,2002.3 L1176.7,2003.8 L1178.2,2006.4 L1179.7,2009.0 L1181.2,2010.3 L1182.7,2011.4 L1184.2,2011.4 L1185.7,2013.6 L1187.2,2012.9 L1188.0,2015.3 L1188.7,2013.7 L1190.2,2014.4 L1191.7,2012.8 L1193.2,2012.7 L1194.7,2011.7 L1196.2,2010.7 L1196.8,2009.3 L1197.7,2007.0 L1199.2,2004.5 L1200.7,2001.7 L1201.8,1998.6 L1202.2,1999.8 L1203.7,1997.1 L1205.2,1995.9 L1206.7,1994.9 L1208.0,1995.4 L1208.2,1992.8 L1209.7,1986.9 L1211.2,1977.8 L1212.7,1969.9 L1214.2,1959.3 L1215.5,1957.4 L1215.7,1956.2 L1217.2,1962.8 L1218.7,1968.1 L1220.2,1977.3 L1221.7,1984.0 L1223.2,1990.8 L1224.2,1995.0 L1224.7,1996.1 L1226.2,2001.9 L1227.7,2004.1 L1229.2,2006.6 L1230.7,2010.1 L1231.7,2010.6 L1232.2,2011.3 L1233.7,2011.3 L1235.2,2012.3 L1236.7,2013.6 L1238.2,2015.4 L1239.2,2016.3 L1239.7,2017.0 L1241.2,2016.2 L1242.7,2015.6 L1244.2,2014.1 L1245.7,2013.6 L1247.2,2013.2 L1248.7,2011.9 L1249.2,2013.7 L1250.2,2014.3 L1251.7,2013.7 L1253.2,2013.0 L1254.7,2014.2 L1256.2,2011.0 L1257.7,2010.1 L1257.9,2011.5 L1259.2,2003.0 L1260.7,1987.8 L1262.2,1973.4 L1262.9,1970.0 L1263.7,1966.9 L1265.2,1964.6 L1266.7,1959.8 L1267.9,1960.0 L1268.2,1960.2 L1269.7,1970.6 L1271.2,1981.3 L1272.7,1991.1 L1274.2,2000.8 L1275.4,2006.6 L1275.7,2006.9 L1277.2,2005.6 L1278.7,2007.1 L1280.2,2009.3 L1281.7,2008.8 L1283.2,2010.1 L1284.2,2012.1 L1284.7,2010.8 L1286.2,2011.2 L1287.7,2010.4 L1289.2,2010.7 L1290.7,2013.8 L1292.2,2014.3 L1293.7,2013.2 L1294.1,2015.6 L1295.2,2015.1 L1296.7,2013.2 L1298.2,2014.8 L1299.7,2012.7 L1301.2,2012.6 L1302.7,2013.4 L1304.1,2011.2 L1304.2,2010.8 L1305.7,2009.2 L1307.2,2008.0 L1308.7,2007.3 L1310.2,2007.5 L1311.6,2007.0 L1311.7,2005.7 L1313.2,2005.4 L1314.7,2000.8 L1316.2,1997.4 L1317.7,1995.2 L1317.9,1993.4 L1319.2,1975.2 L1320.7,1953.4 L1321.6,1943.4 L1322.2,1942.0 L1323.7,1941.8 L1325.2,1937.0 L1326.6,1936.9 L1326.7,1936.6 L1328.2,1943.6 L1329.7,1956.3 L1331.2,1968.0 L1332.7,1980.0 L1334.2,1993.1 L1335.3,2000.8 L1335.7,2001.4 L1337.2,2004.9 L1338.7,2008.0 L1340.2,2009.9 L1341.6,2011.2 L1341.7,2012.6 L1343.2,2011.5 L1344.7,2010.1 L1346.2,2011.0 L1347.7,2009.0 L1349.2,2010.1 L1350.3,2010.4 L1350.7,2008.9 L1352.2,2009.9 L1353.7,2010.1 L1355.2,2009.6 L1356.7,2013.3 L1358.2,2013.5 L1359.0,2015.1 L1359.7,2014.4 L1361.2,2017.4 L1362.7,2018.1 L1364.2,2019.8 L1365.3,2017.6 L1365.7,2019.4 L1367.2,2015.5 L1368.7,2014.9 L1370.2,2011.8"/>
</g>
<g stroke="#000" stroke-width="5" fill="none" stroke-linecap="butt">
<rect x="183.5" y="16.2" width="1188.0" height="2016.8"/>
<line x1="183.5" y1="688.2" x2="1371.5" y2="688.2"/>
<line x1="183.5" y1="1361" x2="1371.5" y2="1361"/>
<line x1="183.5" y1="171.3" x2="209.0" y2="171.3"/>
<line x1="1371.5" y1="171.3" x2="1346.0" y2="171.3"/>
<line x1="183.5" y1="843" x2="209.0" y2="843"/>
<line x1="1371.5" y1="843" x2="1346.0" y2="843"/>
<line x1="183.5" y1="1516" x2="209.0" y2="1516"/>
<line x1="1371.5" y1="1516" x2="1346.0" y2="1516"/>
<line x1="514.7" y1="2033" x2="514.7" y2="1991"/>
<line x1="810" y1="2033" x2="810" y2="1991"/>
<line x1="1105.3" y1="2033" x2="1105.3" y2="1991"/>
</g>
<text x="217" y="121" font-size="72.5" class="b" textLength="457" lengthAdjust="spacing" fill="#800080">B NP + Ag MP</text>
<text x="796.3" y="122" font-size="72.5" class="b" textLength="528.7" lengthAdjust="spacing" fill="#960000">Extended plasma</text>
<text x="845" y="783.3" font-size="72.5" class="b" textLength="483.6" lengthAdjust="spacing" fill="#960000">Five 0.5mm jets</text>
<text x="862" y="1444.2" font-size="72.5" class="b" textLength="472" lengthAdjust="spacing" fill="#960000">Ten 0.2mm jets</text>
<text x="978" y="238" font-size="72.5" class="b" textLength="125.4" lengthAdjust="spacing" fill="#000">H21</text>
<text x="380" y="550.2" font-size="72.5" class="b" textLength="125.9" lengthAdjust="spacing" fill="#000">H41</text>
<text x="661" y="789.2" font-size="72.5" class="b" fill="#000">H29</text>
<text x="299.5" y="1201" font-size="72.5" class="b" fill="#000">H49</text>
<text x="1227.5" y="1116" font-size="72.5" class="b" fill="#000">H17</text>
<text x="447" y="1436.4" font-size="72.5" class="b" textLength="125.9" lengthAdjust="spacing" fill="#000">H41</text>
<text x="190" y="1834.5" font-size="72.5" class="b" textLength="125.9" lengthAdjust="spacing" fill="#000">H61</text>
<text x="1230.5" y="1808" font-size="72.5" class="b" fill="#000">H17</text>
<text x="158" y="192.70000000000002" font-size="72.5" text-anchor="end" fill="#000">1</text>
<text x="158" y="864.4" font-size="72.5" text-anchor="end" fill="#000">1</text>
<text x="158" y="1537.4" font-size="72.5" text-anchor="end" fill="#000">1</text>
<text x="510.70000000000005" y="2097.5" font-size="72.5" text-anchor="middle" fill="#000">20</text>
<text x="806" y="2097.5" font-size="72.5" text-anchor="middle" fill="#000">30</text>
<text x="1107.6" y="2097.5" font-size="72.5" text-anchor="middle" fill="#000">40</text>
<text x="535" y="2197" font-size="76" textLength="543" lengthAdjust="spacing" fill="#000">Wavelength (nm)</text>
<text transform="translate(84,1470) rotate(-90)" font-size="77" textLength="976" lengthAdjust="spacing">Harmonic intensity (arb. units)</text>
<line x1="451.8" y1="575.9" x2="469.3" y2="607.3" stroke="#000" stroke-width="3.6"/><polygon points="483.0,631.7 460.9,609.7 475.8,601.4" fill="#000"/>
<line x1="366.0" y1="1217.3" x2="387.8" y2="1278.8" stroke="#000" stroke-width="3.6"/><polygon points="397.2,1305.2 379.2,1279.8 395.2,1274.1" fill="#000"/>
<line x1="1302.9" y1="1143.6" x2="1314.3" y2="1203.5" stroke="#000" stroke-width="3.6"/><polygon points="1319.6,1231.0 1305.6,1203.1 1322.3,1199.9" fill="#000"/>
<line x1="507.5" y1="1454.0" x2="507.5" y2="1477.0" stroke="#000" stroke-width="3.6"/><polygon points="507.5,1505.0 499.0,1475.0 516.0,1475.0" fill="#000"/>
<line x1="253.1" y1="1860.7" x2="286.1" y2="1951.7" stroke="#000" stroke-width="3.6"/><polygon points="295.6,1978.0 277.4,1952.7 293.4,1946.9" fill="#000"/>
<line x1="1311.2" y1="1828.7" x2="1318.8" y2="1888.9" stroke="#000" stroke-width="3.6"/><polygon points="1322.3,1916.7 1310.1,1888.0 1327.0,1885.9" fill="#000"/>
</svg></body></html>
